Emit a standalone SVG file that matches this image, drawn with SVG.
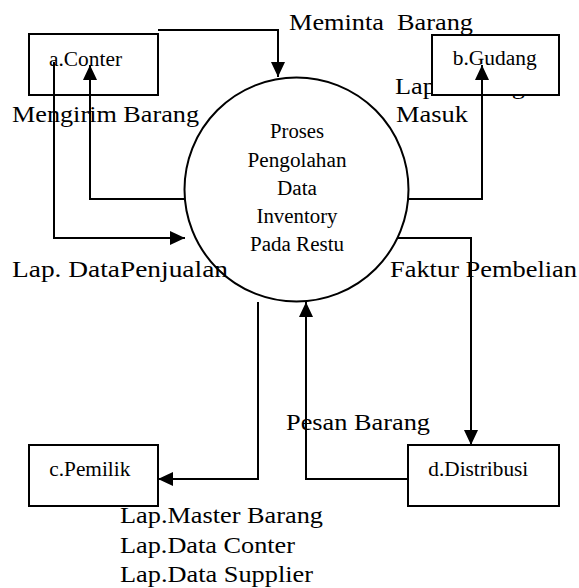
<svg xmlns="http://www.w3.org/2000/svg" width="579" height="588" viewBox="0 0 579 588">
  <style>
    .small { font-family: "Liberation Serif", "Times New Roman", serif; font-size: 20px; fill: #000; }
    .lbl { font-family: "Liberation Serif", "Times New Roman", serif; font-size: 23.5px; fill: #000; }
    .box { fill: #fff; stroke: #000; stroke-width: 2; }
    .proc { fill: none; stroke: #000; stroke-width: 2; }
    .conn { fill: none; stroke: #000; stroke-width: 2; marker-end: url(#arrow); }
  </style>
  <defs>
    <marker id="arrow" markerUnits="userSpaceOnUse" markerWidth="15" markerHeight="14" refX="15" refY="7" orient="auto">
      <path d="M0,0 L15,7 L0,14 z" fill="#000"/>
    </marker>
  </defs>
  <rect width="579" height="588" fill="#fff"/>

  <g id="labels">
    <text class="lbl" x="289" y="29.5" textLength="184" lengthAdjust="spacingAndGlyphs" xml:space="preserve">Meminta  Barang</text>
    <text class="lbl" x="12" y="122" textLength="187" lengthAdjust="spacingAndGlyphs">Mengirim Barang</text>
    <text class="lbl" x="395" y="94" textLength="130" lengthAdjust="spacingAndGlyphs">Lap. Barang</text>
    <text class="lbl" x="396" y="122" textLength="72" lengthAdjust="spacingAndGlyphs">Masuk</text>
    <text class="lbl" x="12" y="276.5" textLength="216" lengthAdjust="spacingAndGlyphs">Lap. DataPenjualan</text>
    <text class="lbl" x="390" y="276.5" textLength="187" lengthAdjust="spacingAndGlyphs">Faktur Pembelian</text>
    <text class="lbl" x="286" y="430" textLength="144" lengthAdjust="spacingAndGlyphs">Pesan Barang</text>
    <text class="lbl" x="120" y="523" textLength="203" lengthAdjust="spacingAndGlyphs">Lap.Master Barang</text>
    <text class="lbl" x="120" y="552.5" textLength="175" lengthAdjust="spacingAndGlyphs">Lap.Data Conter</text>
    <text class="lbl" x="120" y="582" textLength="193" lengthAdjust="spacingAndGlyphs">Lap.Data Supplier</text>
  </g>

  <g id="node-process">
    <circle class="proc" cx="296.5" cy="189.5" r="112"/>
    <text class="small" x="297" y="138" text-anchor="middle" textLength="54" lengthAdjust="spacingAndGlyphs">Proses</text>
    <text class="small" x="297" y="167" text-anchor="middle" textLength="99" lengthAdjust="spacingAndGlyphs">Pengolahan</text>
    <text class="small" x="297" y="195" text-anchor="middle" textLength="40" lengthAdjust="spacingAndGlyphs">Data</text>
    <text class="small" x="297" y="223" text-anchor="middle" textLength="81" lengthAdjust="spacingAndGlyphs">Inventory</text>
    <text class="small" x="297" y="251" text-anchor="middle" textLength="94" lengthAdjust="spacingAndGlyphs">Pada Restu</text>
  </g>

  <g id="node-a">
    <rect class="box" x="29" y="34" width="129" height="61"/>
    <text class="small" x="49" y="65.7" textLength="73" lengthAdjust="spacingAndGlyphs">a.Conter</text>
  </g>
  <g id="node-b">
    <rect class="box" x="432" y="35" width="127" height="60"/>
    <text class="small" x="452.7" y="65" textLength="84" lengthAdjust="spacingAndGlyphs">b.Gudang</text>
  </g>
  <g id="node-c">
    <rect class="box" x="29" y="445" width="129" height="61"/>
    <text class="small" x="49.3" y="476" textLength="81" lengthAdjust="spacingAndGlyphs">c.Pemilik</text>
  </g>
  <g id="node-d">
    <rect class="box" x="408" y="445" width="151" height="61"/>
    <text class="small" x="428.3" y="476" textLength="100" lengthAdjust="spacingAndGlyphs">d.Distribusi</text>
  </g>

  <g id="connectors">
    <path class="conn" d="M158,30 H278 V77"/>
    <path class="conn" d="M185,199 H90 V65"/>
    <path class="conn" d="M54,62 V238 H185"/>
    <path class="conn" d="M408,199 H482 V65"/>
    <path class="conn" d="M397,238 H471 V445"/>
    <path class="conn" d="M408,479 H306 V302"/>
    <path class="conn" d="M258,302 V479 H158"/>
  </g>
</svg>
